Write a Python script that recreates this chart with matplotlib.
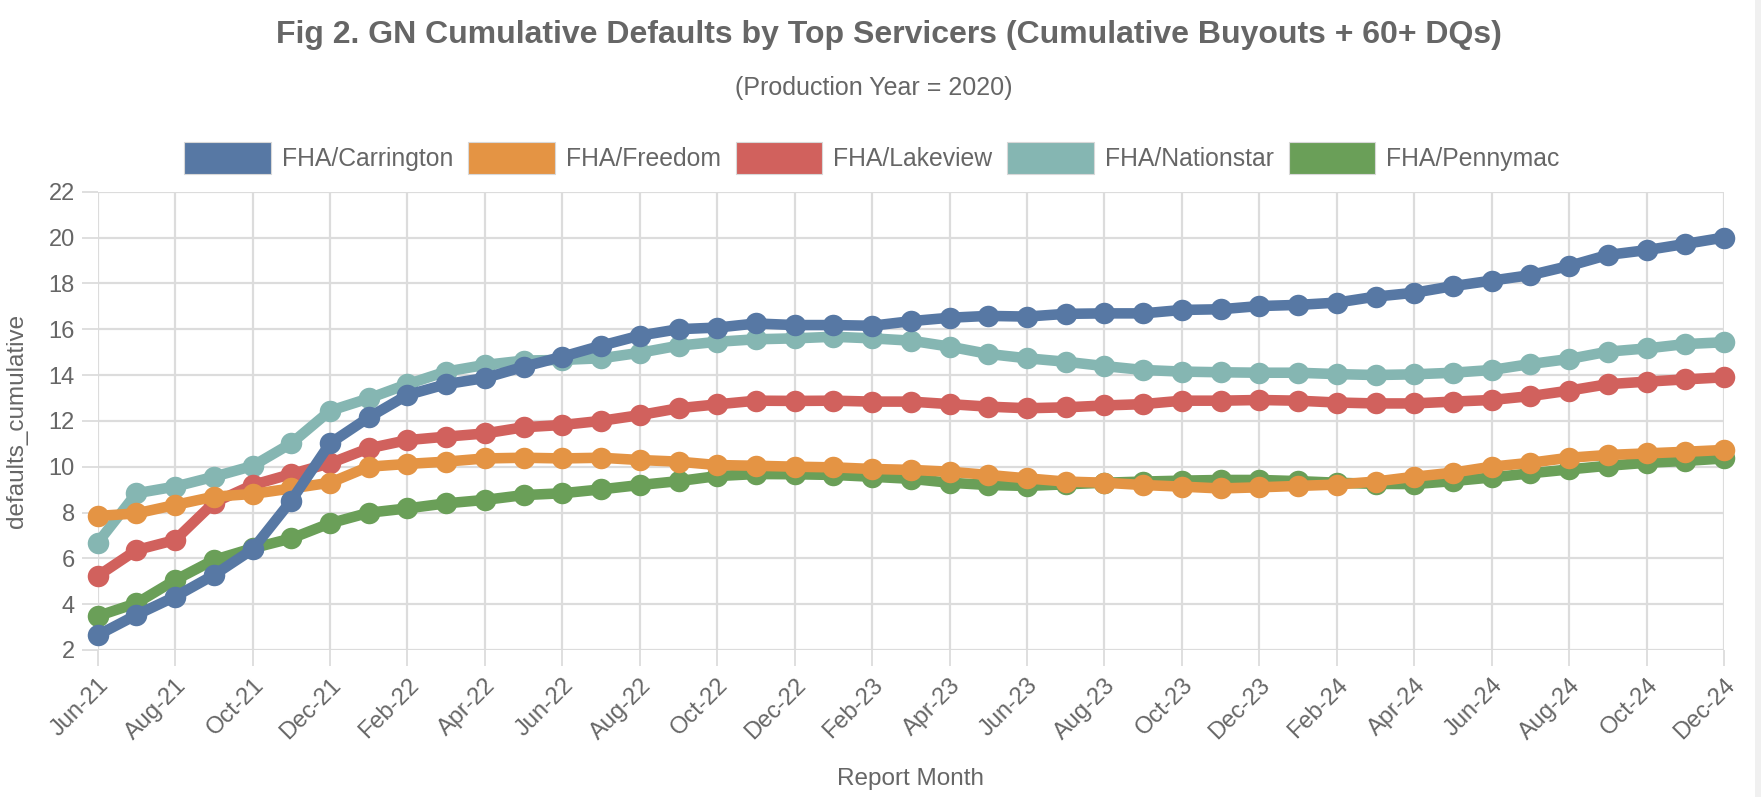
import matplotlib
matplotlib.use("Agg")
import matplotlib.pyplot as plt
from matplotlib.patches import Patch, Rectangle

plt.rcParams['font.family'] = ['Liberation Sans', 'DejaVu Sans']

months = ["Jun-21", "Jul-21", "Aug-21", "Sep-21", "Oct-21", "Nov-21", "Dec-21",
          "Jan-22", "Feb-22", "Mar-22", "Apr-22", "May-22", "Jun-22", "Jul-22",
          "Aug-22", "Sep-22", "Oct-22", "Nov-22", "Dec-22", "Jan-23", "Feb-23",
          "Mar-23", "Apr-23", "May-23", "Jun-23", "Jul-23", "Aug-23", "Sep-23",
          "Oct-23", "Nov-23", "Dec-23", "Jan-24", "Feb-24", "Mar-24", "Apr-24",
          "May-24", "Jun-24", "Jul-24", "Aug-24", "Sep-24", "Oct-24", "Nov-24",
          "Dec-24"]

carrington = [2.65, 3.53, 4.33, 5.27, 6.39, 8.52, 11.02, 12.15, 13.13, 13.6, 13.87,
              14.36, 14.8, 15.28, 15.72, 16.0, 16.07, 16.25, 16.18, 16.18, 16.15,
              16.35, 16.5, 16.58, 16.55, 16.67, 16.69, 16.69, 16.84, 16.87, 17.01,
              17.06, 17.16, 17.42, 17.59, 17.88, 18.12, 18.36, 18.76, 19.24, 19.45,
              19.72, 20.0]
freedom = [7.85, 7.96, 8.33, 8.69, 8.81, 9.05, 9.3, 10.0, 10.12, 10.22, 10.36,
           10.39, 10.36, 10.39, 10.29, 10.22, 10.07, 10.04, 10.0, 9.97, 9.9,
           9.86, 9.78, 9.64, 9.49, 9.35, 9.3, 9.2, 9.13, 9.05, 9.1, 9.16, 9.22,
           9.35, 9.56, 9.74, 10.0, 10.17, 10.39, 10.51, 10.58, 10.65, 10.73]
lakeview = [5.23, 6.36, 6.8, 8.43, 9.2, 9.68, 10.15, 10.8, 11.16, 11.31, 11.45,
            11.72, 11.82, 12.0, 12.25, 12.55, 12.72, 12.88, 12.87, 12.88, 12.84,
            12.84, 12.73, 12.62, 12.55, 12.59, 12.67, 12.73, 12.88, 12.88, 12.91,
            12.88, 12.8, 12.76, 12.76, 12.84, 12.91, 13.08, 13.32, 13.6, 13.71,
            13.81, 13.9]
nationstar = [6.68, 8.84, 9.13, 9.56, 10.03, 11.02, 12.44, 12.98, 13.6, 14.15,
              14.44, 14.63, 14.66, 14.73, 14.97, 15.28, 15.45, 15.56, 15.6, 15.67,
              15.6, 15.5, 15.24, 14.92, 14.73, 14.58, 14.39, 14.22, 14.15, 14.12,
              14.1, 14.1, 14.04, 14.0, 14.03, 14.1, 14.22, 14.48, 14.7, 15.02,
              15.16, 15.35, 15.43]
pennymac = [3.48, 4.04, 5.05, 5.93, 6.44, 6.87, 7.53, 7.99, 8.18, 8.4, 8.55, 8.76,
            8.84, 9.01, 9.2, 9.37, 9.59, 9.68, 9.67, 9.64, 9.56, 9.47, 9.3, 9.2,
            9.16, 9.23, 9.3, 9.35, 9.39, 9.42, 9.42, 9.37, 9.3, 9.25, 9.24, 9.37,
            9.53, 9.71, 9.88, 10.04, 10.17, 10.25, 10.36]

names = ["FHA/Carrington", "FHA/Freedom", "FHA/Lakeview", "FHA/Nationstar", "FHA/Pennymac"]
series = [carrington, freedom, lakeview, nationstar, pennymac]
colors = ["#5778a4", "#e49444", "#d1615d", "#85b6b2", "#6a9f58"]
yticks = list(range(2, 23, 2))

W, H = 1761, 797
AX_L, AX_R, AX_T, AX_B = 97.7, 1724, 191.7, 650
fig = plt.figure(figsize=(W / 100, H / 100), dpi=100)
ax = fig.add_axes([AX_L / W, (H - AX_B) / H, (AX_R - AX_L) / W, (AX_B - AX_T) / H])

x = list(range(len(months)))
for i in reversed(range(len(names))):
    ax.plot(x, series[i], color=colors[i], lw=7.6, marker='o', ms=15.5, mew=0,
            solid_capstyle='round', solid_joinstyle='round', zorder=3 + (len(names) - i),
            clip_on=False)

gray_grid = "#dcdcdc"
text_gray = "#666666"
ax.set_xlim(0, len(months) - 1)
ax.set_ylim(2, 22)
ax.set_yticks(yticks)
ax.set_xticks(x[::2])
ax.set_xticklabels(months[::2], rotation=45, ha='right', va='top', rotation_mode='anchor')
ax.grid(True, color=gray_grid, lw=1.6, zorder=0)
for s in ax.spines.values():
    s.set_visible(False)
ax.tick_params(axis='both', colors=gray_grid, labelcolor=text_gray, labelsize=17,
               length=11.5, width=1.3)
ax.tick_params(axis='y', pad=5)
ax.tick_params(axis='x', pad=6)
ax.axhline(2, color="#cccccc", lw=2, zorder=1)

ax.set_ylabel("defaults_cumulative", fontsize=17.5, color=text_gray)
ax.yaxis.set_label_coords(-(AX_L - 28) / (AX_R - AX_L), 0.5)
ax.set_xlabel("Report Month", fontsize=17.5, color=text_gray)
ax.xaxis.set_label_coords(0.5, -(768 - AX_B) / (AX_B - AX_T))

fig.text(889 / W, 1 - 35 / H, "Fig 2. GN Cumulative Defaults by Top Servicers (Cumulative Buyouts + 60+ DQs)",
         ha='center', va='center', fontsize=23, fontweight='bold', color=text_gray)
fig.text(874 / W, 1 - 88 / H, "(Production Year = 2020)", ha='center', va='center',
         fontsize=18, color=text_gray)

handles = [Patch(facecolor=c, edgecolor='#d8d8d8', lw=0.8) for c in colors]
fig.legend(handles, names, loc='center', bbox_to_anchor=(872 / W, 1 - 158 / H), ncol=5,
           frameon=False, fontsize=17.8, labelcolor=text_gray, handlelength=3.5,
           handleheight=1.65, handletextpad=0.45, columnspacing=0.6)

fig.patches.append(Rectangle((1755 / W, 0), 6 / W, 1, transform=fig.transFigure,
                             facecolor='#f0f0f0', edgecolor='none'))

fig.savefig("out.png", dpi=100, facecolor='white')
